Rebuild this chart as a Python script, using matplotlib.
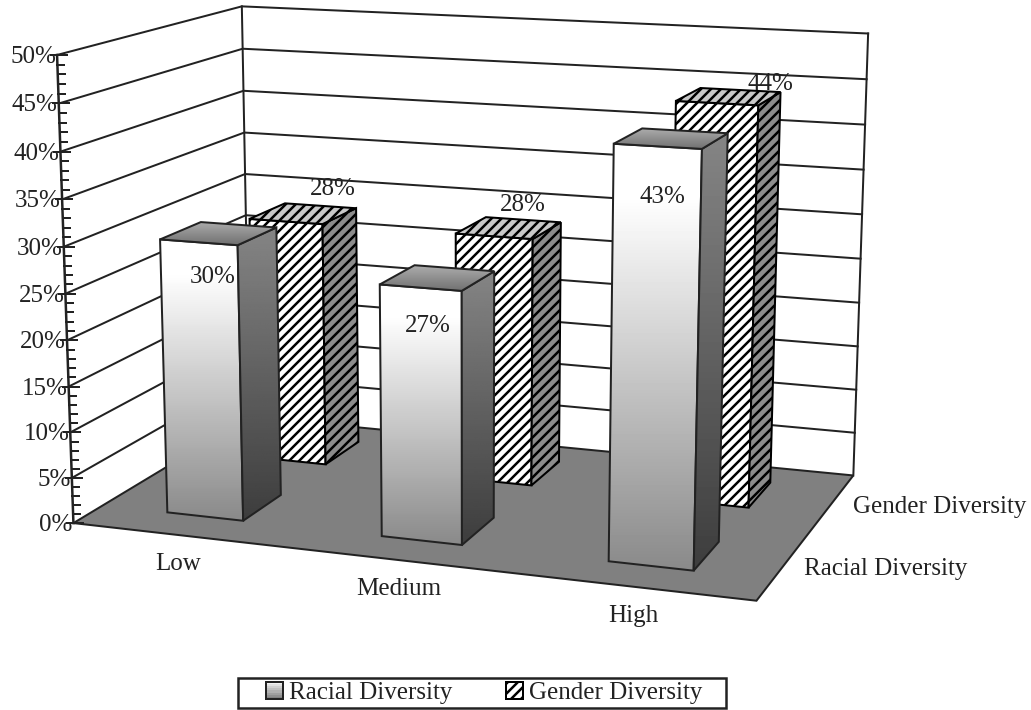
#coding:utf-8
import numpy as np
from matplotlib import pyplot as plt
from matplotlib.legend_handler import HandlerBase
from matplotlib.patches import Patch, Polygon, Rectangle

plt.rcParams['font.family'] = ['Liberation Serif', 'DejaVu Serif']
plt.rcParams['hatch.linewidth'] = 1.5

### chart values
categories = ['Low', 'Medium', 'High']
series_names = ['Racial Diversity', 'Gender Diversity']
racial = [30, 27, 43]
gender = [28, 28, 44]
value_ticks = [0, 5, 10, 15, 20, 25, 30, 35, 40, 45, 50]
minor_ticks = [v for v in range(0, 51) if v % 5]

INK = '#222222'
FS = 15.0
LW = 1.2

### camera: box corners (category, depth, value) -> pixel, solved by least squares
box = [(0, 0, 0), (0, 0, 50), (0, 1, 0), (0, 1, 50), (3, 1, 0), (3, 1, 50), (3, 0, 0)]
pix = [(73, 520), (57, 56), (250, 420), (242, 5), (853, 473), (868, 34), (757, 603)]
A = []
b = []
for (X, Y, Z), (u, v) in zip(box, pix):
    A.append([X, Y, Z, 1, 0, 0, 0, 0, -u * X, -u * Y, -u * Z])
    A.append([0, 0, 0, 0, X, Y, Z, 1, -v * X, -v * Y, -v * Z])
    b += [u, v]
P = np.append(np.linalg.lstsq(np.array(A, float), np.array(b, float), rcond=None)[0], 1).reshape(3, 4)


def proj(x, y, z):
    p = P @ np.array([x, y, z, 1.0])
    return p[0] / p[2], p[1] / p[2]


fig = plt.figure(figsize=(1031 / 120, 710 / 120), dpi=120)
ax = fig.add_axes([0, 0, 1, 1])
ax.set_xlim(0, 1031)
ax.set_ylim(710, 0)
ax.axis('off')

z_now = 10


def next_z():
    global z_now
    z_now += 1
    return z_now


def outline(pts, fc='none', hatch=None):
    ax.add_patch(Polygon(pts, closed=True, facecolor=fc, edgecolor=INK if hatch is None else 'black',
                         hatch=hatch, lw=LW, zorder=next_z()))


def gradient_face(pts, stops):
    pts = np.array(pts)
    grad = np.interp(np.linspace(0, 1, 128), [s[0] for s in stops], [s[1] for s in stops]).reshape(-1, 1)
    ext = (pts[:, 0].min(), pts[:, 0].max(), pts[:, 1].max(), pts[:, 1].min())
    z = next_z()
    im = ax.imshow(grad, cmap='gray', vmin=0, vmax=1, extent=ext, aspect='auto', origin='upper',
                   interpolation='bilinear', zorder=z)
    im.set_clip_path(Polygon(pts, closed=True, transform=ax.transData))
    outline(pts)


### floor and walls
outline([proj(0, 0, 0), proj(3, 0, 0), proj(3, 1, 0), proj(0, 1, 0)], fc='#808080')
for v in value_ticks[1:]:
    ax.plot(*zip(proj(0, 0, v), proj(0, 1, v), proj(3, 1, v)), color=INK, lw=LW, zorder=next_z())
ax.plot(*zip(proj(0, 1, 0), proj(0, 1, 50)), color=INK, lw=LW, zorder=next_z())
ax.plot(*zip(proj(3, 1, 0), proj(3, 1, 50)), color=INK, lw=LW, zorder=next_z())

### value axis
ax.plot(*zip(proj(0, 0, 0), proj(0, 0, 50)), color=INK, lw=LW + 0.3, zorder=next_z())
for v in value_ticks:
    x, y = proj(0, 0, v)
    ax.plot([x - 6, x + 10], [y, y], color=INK, lw=LW, zorder=next_z())
    ax.text(x - 1, y + 2, '%d%%' % v, ha='right', va='center', fontsize=FS, color=INK, zorder=500)
for v in minor_ticks:
    x, y = proj(0, 0, v)
    ax.plot([x, x + 7], [y, y], color=INK, lw=LW, zorder=next_z())

### bars, back row first
gap = 0.32
x_shift = -0.009
depth_rows = [(0.15, 0.37), (0.65, 0.87)]


def draw_bar(i, row, value):
    x0, x1 = i + gap + x_shift, i + 1 - gap + x_shift
    y0, y1 = depth_rows[row]
    front = [proj(x0, y0, value), proj(x1, y0, value), proj(x1, y0, 0), proj(x0, y0, 0)]
    side = [proj(x1, y0, value), proj(x1, y1, value), proj(x1, y1, 0), proj(x1, y0, 0)]
    top = [proj(x0, y0, value), proj(x1, y0, value), proj(x1, y1, value), proj(x0, y1, value)]
    if row == 0:
        gradient_face(front, [(0, 1.0), (0.12, 1.0), (1, 0.54)])
        gradient_face(side, [(0, 0.52), (1, 0.24)])
        gradient_face(top, [(0, 0.68), (1, 0.44)])
    else:
        outline(front, fc='white', hatch='////')
        outline(side, fc='#8c8c8c', hatch='////')
        outline(top, fc='#c8c8c8', hatch='////')


for i, v in enumerate(gender):
    draw_bar(i, 1, v)
for i, v in enumerate(racial):
    draw_bar(i, 0, v)

### data labels, nudged off the bar tops
racial_nudge = [(12, 35), (5, 38), (3, 51)]
gender_nudge = [(11, -17), (-2, -15), (28, -6)]
for i, v in enumerate(racial):
    x, y = proj(i + 0.5, 0.15, v)
    ax.text(x + racial_nudge[i][0], y + racial_nudge[i][1], '%d%%' % v, ha='center', va='center',
            fontsize=FS, color=INK, zorder=500)
for i, v in enumerate(gender):
    x, y = proj(i + 0.5, 0.87, v)
    ax.text(x + gender_nudge[i][0], y + gender_nudge[i][1], '%d%%' % v, ha='center', va='center',
            fontsize=FS, color=INK, zorder=500)

### category and series labels
for i, name in enumerate(categories):
    x, y = proj(i + 0.5, 0, 0)
    ax.text(x - 1, y + 29, name, ha='center', va='center', fontsize=FS, color=INK, zorder=500)
for row, name in enumerate(series_names):
    x, y = proj(3, sum(depth_rows[row]) / 2, 0)
    ax.text(x + 20, y + 5, name, ha='left', va='center', fontsize=FS, color=INK, zorder=500)


### legend
class GradientSwatch(HandlerBase):
    def create_artists(self, legend, orig, xd, yd, w, h, fontsize, trans):
        parts = []
        for k, g in enumerate(np.linspace(0.95, 0.5, 8)):
            parts.append(Rectangle((-xd, -yd + h * (7 - k) / 8), w, h / 8, facecolor=str(g), lw=0, transform=trans))
        parts.append(Rectangle((-xd, -yd), w, h, facecolor='none', edgecolor=INK, lw=LW, transform=trans))
        return parts


racial_key = Patch(label=series_names[0])
gender_key = Patch(facecolor='white', edgecolor='black', hatch='////', lw=LW, label=series_names[1])
ax.add_patch(Rectangle((238, 678), 488, 30, facecolor='white', edgecolor=INK, lw=LW + 0.3, zorder=590))
leg = ax.legend(handles=[racial_key, gender_key], handler_map={racial_key: GradientSwatch()},
                loc='center', bbox_to_anchor=(484, 693), bbox_transform=ax.transData, ncol=2,
                fontsize=FS, frameon=False, handlelength=0.68, handleheight=0.68, handletextpad=0.25,
                columnspacing=2.15, borderpad=0, borderaxespad=0, labelcolor=INK)
leg.set_zorder(600)

ax.set_xlim(0, 1031)
ax.set_ylim(710, 0)
fig.savefig('out.png', dpi=120)
